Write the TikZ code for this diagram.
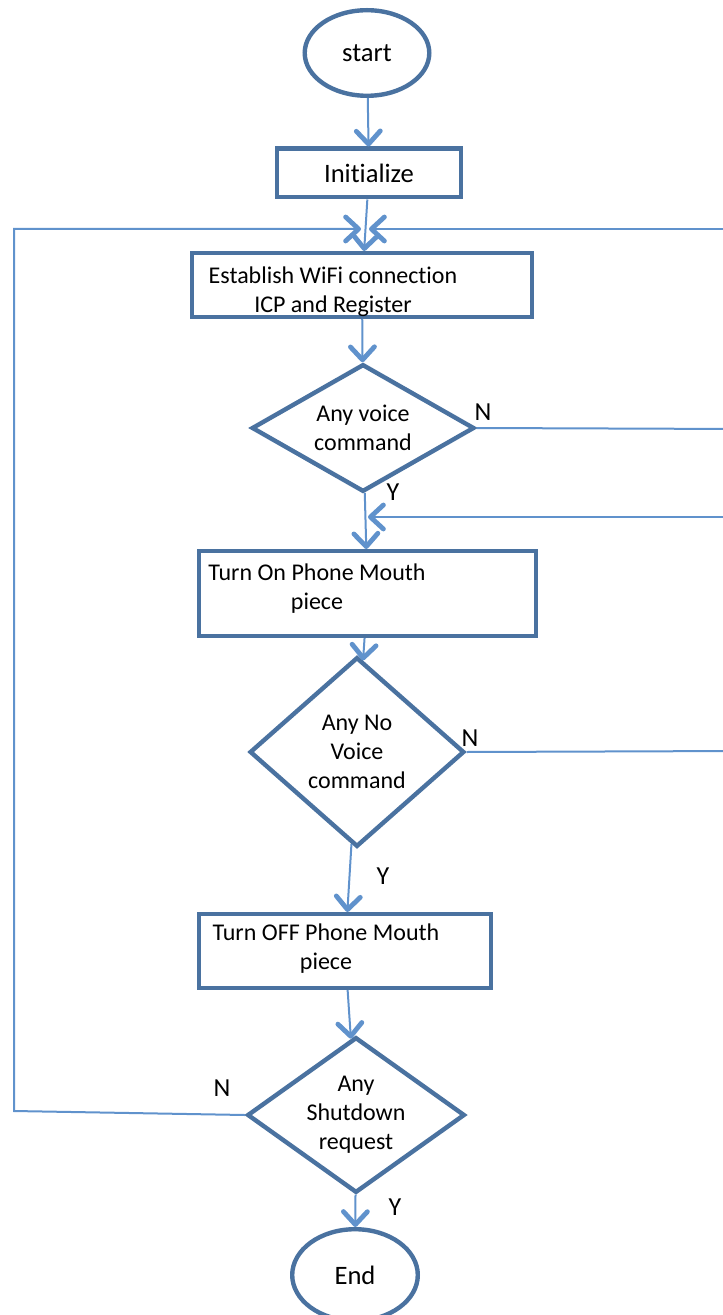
\documentclass[tikz,border=0pt]{standalone}
\usepackage{fontspec}
\setmainfont{Carlito}[Ligatures=CommonOff]
\usepackage{tikz}
\usetikzlibrary{arrows.meta,shapes.geometric}
\definecolor{fcborder}{RGB}{74,114,160}
\definecolor{fcline}{RGB}{96,146,204}
\tikzstyle{arrow} = [line width=1pt, color=fcline, -{Straight Barb[length=6.5pt,width=12pt,line width=2.4pt,round]}]
\tikzstyle{link} = [line width=1pt, color=fcline]
\tikzstyle{process} = [rectangle, draw=fcborder, line width=2.2pt, fill=white, inner sep=0pt]
\tikzstyle{decision} = [diamond, draw=fcborder, line width=2.2pt, fill=white, inner sep=0pt, align=center]
\tikzstyle{terminal} = [ellipse, draw=fcborder, line width=2.2pt, fill=white, inner sep=0pt, font=\fontsize{13.3}{15}\selectfont]
\tikzstyle{txt} = [align=center, inner sep=0pt]
\tikzstyle{branch} = [inner sep=0pt, font=\fontsize{13}{15}\selectfont]

\begin{document}
\begin{tikzpicture}[x=0.5pt, y=-0.5pt, font=\fontsize{12}{14.5}\selectfont]
\useasboundingbox (0,0) rectangle (722,1315);
% Main column
\node (start) [terminal, minimum width=62.3pt, minimum height=42.8pt] at (367,53) {start};
\node (init) [process, minimum width=91.8pt, minimum height=24.3pt, font=\fontsize{13.3}{15}\selectfont] at (369,173) {Initialize};
\node (estab) [process, minimum width=169.8pt, minimum height=31.8pt] at (362,285) {};
\node (estabtxt) [txt] at (333,292) {Establish WiFi connection\\ICP and Register};
\node (d1) [decision, aspect=1.7, minimum width=111.3pt, minimum height=63.8pt] at (363,428) {Any voice\\command};
\node (on) [process, minimum width=168.3pt, minimum height=42.3pt] at (367.5,593.5) {};
\node (ontxt) [txt] at (317,589) {Turn On Phone Mouth\\piece};
\node (d2) [decision, aspect=1.1, minimum width=107.3pt, minimum height=94.8pt] at (357,752) {Any No\\Voice\\command};
\node (off) [process, minimum width=145.8pt, minimum height=36.8pt] at (345,951) {};
\node (offtxt) [txt] at (326,949) {Turn OFF Phone Mouth\\piece};
\node (d3) [decision, aspect=1.4, minimum width=108.8pt, minimum height=77.8pt] at (356,1115) {Any\\Shutdown\\request};
\node (end) [terminal, minimum width=62.8pt, minimum height=45.8pt] at (355,1275) {End};

% Branch labels
\node (n1) [branch] at (483,412) {N};
\node (y1) [branch] at (393,492) {Y};
\node (n2) [branch] at (470,738) {N};
\node (y2) [branch] at (383,876) {Y};
\node (n3) [branch] at (222,1088) {N};
\node (y3) [branch] at (395,1207) {Y};

% Loop points
\coordinate (lbot) at (14,1111);
\coordinate (ltop) at (14,229);
\coordinate (loopL) at (361,229);
\coordinate (loopR) at (369,229);
\coordinate (rtop) at (740,229);
\coordinate (rd1) at (740,429);
\coordinate (rback) at (740,517);
\coordinate (backin) at (368,517);
\coordinate (rd2) at (740,751);

\draw[arrow] (start) -- (init);
\draw[arrow] (init) -- (estab);
\draw[arrow] (estab) -- (d1);
\draw[arrow] (d1) -- (on);
\draw[arrow] (on) -- (d2);
\draw[arrow] (d2) -- (off);
\draw[arrow] (off) -- (d3);
\draw[arrow] (d3) -- (end);

\draw[arrow] (d3.west) -- (lbot) -- (ltop) -- (loopL);
\draw[arrow] (rtop) -- (loopR);
\draw[link] (d1.east) -- (rd1);
\draw[arrow] (rback) -- (backin);
\draw[link] (d2.east) -- (rd2);
\end{tikzpicture}
\end{document}
